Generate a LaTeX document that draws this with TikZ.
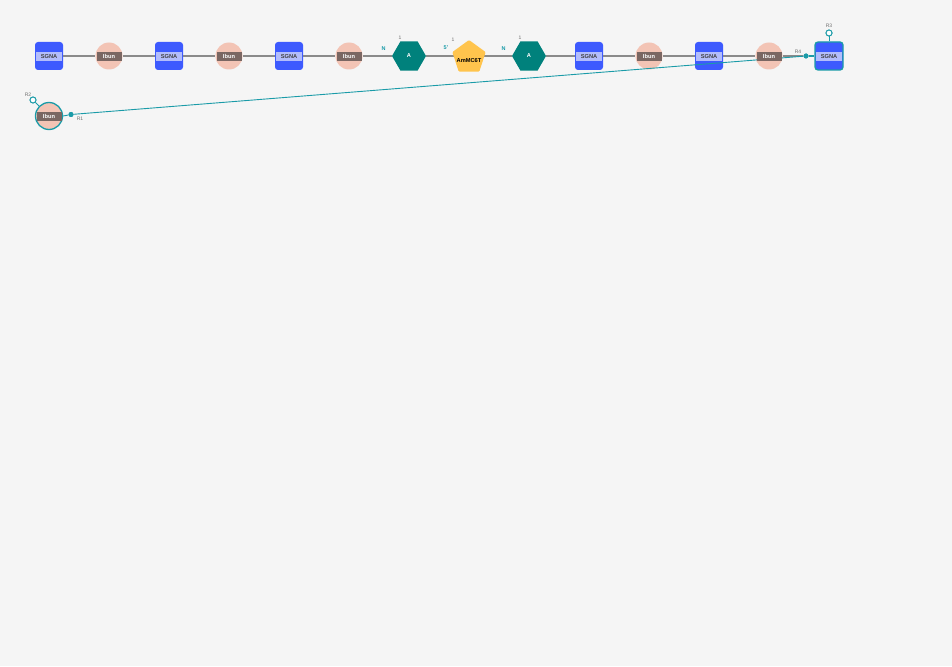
\documentclass[tikz,border=0pt]{standalone}
\usepackage{fontspec}
\setmainfont{Liberation Sans}
\usetikzlibrary{shapes.geometric}
\definecolor{bgcol}{HTML}{F5F5F5}
\definecolor{sgnablue}{HTML}{3D5AFE}
\definecolor{sgnalight}{HTML}{B3BDFB}
\definecolor{ibunpeach}{HTML}{F3C4B5}
\definecolor{ibunbrown}{HTML}{7A6763}
\definecolor{hexteal}{HTML}{00817C}
\definecolor{penyellow}{HTML}{FFC44D}
\definecolor{linkteal}{HTML}{1A9BA8}
\definecolor{bonegray}{HTML}{8A8A8A}
\definecolor{tagcol}{HTML}{6E6E6E}
\tikzset{
  sgna/.style={rectangle, rounded corners=3pt, fill=sgnablue, minimum width=28pt, minimum height=28pt, inner sep=0pt},
  sgnatag/.style={rectangle, fill=sgnalight, minimum width=26pt, minimum height=8.5pt, inner sep=0pt,
    font=\fontsize{5.7}{6}\selectfont\bfseries, text=black!75},
  ibun/.style={circle, fill=ibunpeach, minimum size=27pt, inner sep=0pt},
  ibuntag/.style={rectangle, fill=ibunbrown, minimum width=25pt, minimum height=9pt, inner sep=0pt,
    font=\fontsize{5.7}{6}\selectfont\bfseries, text=white},
  hexa/.style={regular polygon, regular polygon sides=6, fill=hexteal, minimum size=34pt, inner sep=0pt,
    font=\fontsize{5.7}{6}\selectfont\bfseries, text=white},
  penta/.style={regular polygon, regular polygon sides=5, fill=penyellow, minimum size=35pt, inner sep=0pt, rounded corners=1pt},
  pentatag/.style={font=\fontsize{5.7}{6}\selectfont\bfseries, text=black, inner sep=0pt},
  picked/.style={draw=linkteal, line width=1.3pt},
  backbone/.style={draw=bonegray, line width=1.9pt},
  link/.style={draw=linkteal, line width=0.9pt},
  dotpt/.style={circle, fill=linkteal, minimum size=5pt, inner sep=0pt},
  rgroup/.style={circle, draw=linkteal, fill=white, line width=0.9pt, minimum size=6pt, inner sep=0pt},
  rtag/.style={font=\fontsize{5}{5}\selectfont, text=tagcol, inner sep=0pt},
  numtag/.style={font=\fontsize{5}{5}\selectfont, text=tagcol, inner sep=0pt},
  endtag/.style={font=\fontsize{5.5}{6}\selectfont\bfseries, text=linkteal, inner sep=0pt},
}
\begin{document}
\begin{tikzpicture}[x=1pt,y=-1pt]
\fill[bgcol] (0,0) rectangle (952,666);
\useasboundingbox (0,0) rectangle (952,666);

% monomers along the chain
\node[sgna] (s1) at (49,56) {};
\node[ibun] (i1) at (109,56) {};
\node[sgna] (s2) at (169,56) {};
\node[ibun] (i2) at (229,56) {};
\node[sgna] (s3) at (289,56) {};
\node[ibun] (i3) at (349,56) {};
\node[hexa] (h1) at (409,56) {A};
\node[hexa] (h2) at (529,56) {A};
\node[sgna] (s4) at (589,56) {};
\node[ibun] (i4) at (649,56) {};
\node[sgna] (s5) at (709,56) {};
\node[ibun] (i5) at (769,56) {};
\node[sgna, picked] (s6) at (829,56) {};
\node[ibun, picked] (i6) at (49,116) {};

% attachment points
\node[dotpt] (d2) at (806,56) {};
\node[dotpt] (d1) at (71,114.5) {};
\node[rgroup] (r3) at (829,33) {};
\node[rgroup] (r2) at (33,100) {};

% backbone bonds
\draw[backbone] (s1.east) -- (i1.west);
\draw[backbone] (i1.east) -- (s2.west);
\draw[backbone] (s2.east) -- (i2.west);
\draw[backbone] (i2.east) -- (s3.west);
\draw[backbone] (s3.east) -- (i3.west);
\draw[backbone] (i3.east) -- (h1.corner 3);
\draw[backbone] (h1.corner 6) -- (h2.corner 3);
\draw[backbone] (h2.corner 6) -- (s4.west);
\draw[backbone] (s4.east) -- (i4.west);
\draw[backbone] (i4.east) -- (s5.west);
\draw[backbone] (s5.east) -- (i5.west);
\draw[backbone] (i5.east) -- (d2);

% linker between the two A units, drawn over its bonds
\node[penta] (p1) at (469,57.5) {};

% cross link
\draw[link] (d1) -- (d2);
\draw[link] (i6.east) -- (d1);
\draw[linkteal, line width=2.2pt] (d2) -- (s6.west);
\draw[link] (r3) -- (s6.north);
\draw[link] (r2) -- (i6);
\node[dotpt] at (d2) {};
\node[dotpt] at (d1) {};
\node[rgroup] at (r3) {};
\node[rgroup] at (r2) {};

% monomer labels
\foreach \n in {s1,s2,s3,s4,s5,s6} \node[sgnatag] (\n t) at ([yshift=-0.5pt]\n) {SGNA};
\foreach \n in {i1,i2,i3,i4,i5,i6} \node[ibuntag] (\n t) at ([yshift=-0.5pt]\n) {Ibun};
\node[pentatag] (p1t) at (469,60.5) {AmMC6T};

% terminal and position tags
\node[endtag] (n1) at (383.5,48.5) {N};
\node[endtag] (n2) at (503.5,48.5) {N};
\node[endtag] (n3) at (446,47.5) {5'};
\node[numtag] (c1) at (400,37.5) {1};
\node[numtag] (c2) at (453,40) {1};
\node[numtag] (c3) at (520,37.5) {1};
\node[rtag] (t1) at (80,119) {R1};
\node[rtag] (t2) at (28,95) {R2};
\node[rtag] (t3) at (829,26) {R3};
\node[rtag] (t4) at (798,51.5) {R4};
\end{tikzpicture}
\end{document}
